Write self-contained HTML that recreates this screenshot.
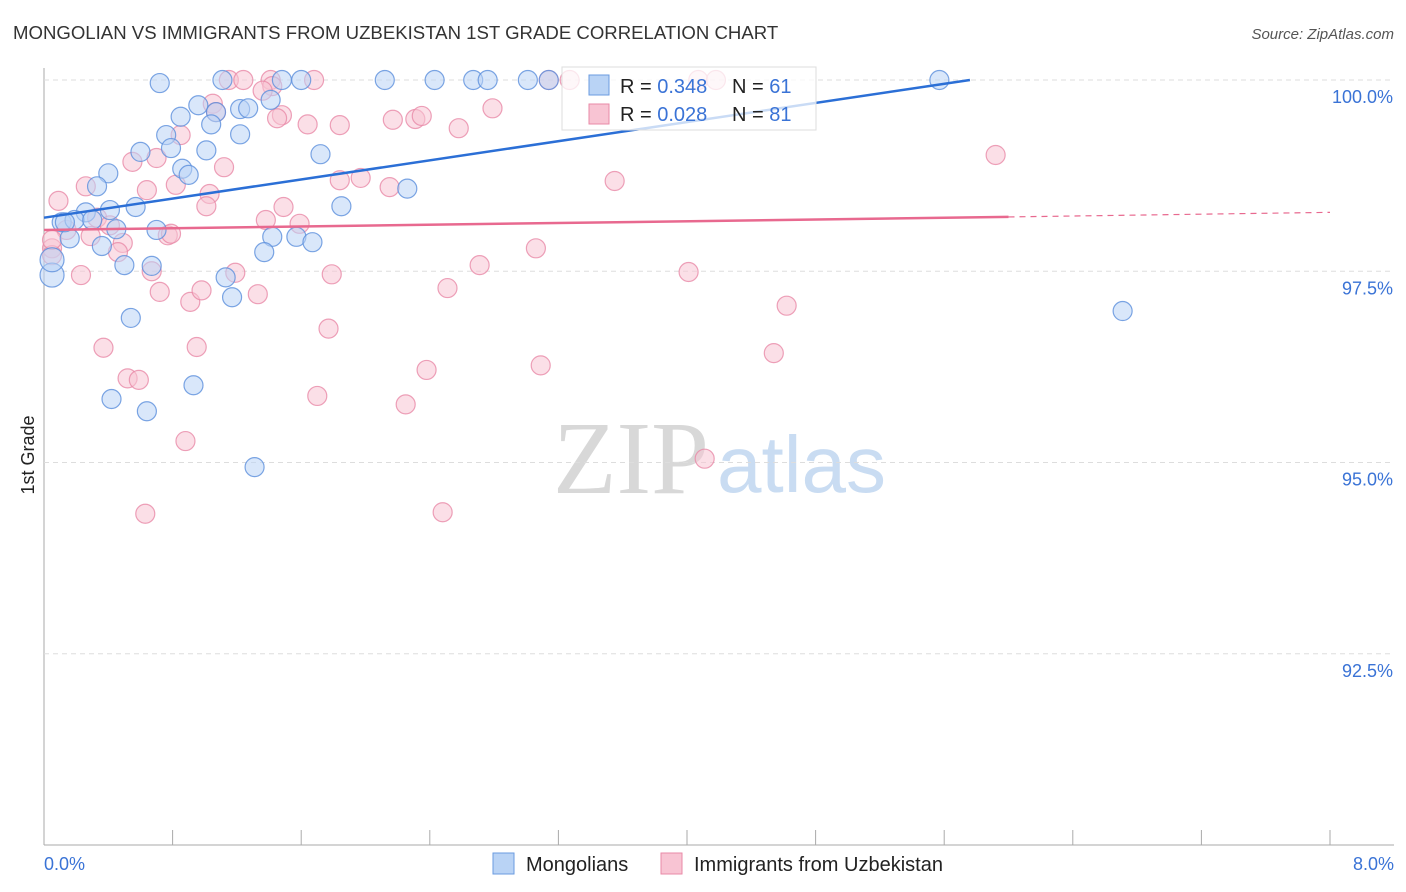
<!DOCTYPE html>
<html><head><meta charset="utf-8"><style>
body{margin:0;background:#fff;font-family:"Liberation Sans",sans-serif;}
#wrap{position:relative;width:1406px;height:892px;overflow:hidden;}
</style></head><body>
<div id="wrap">
<svg id="svg" width="1406" height="892" xmlns="http://www.w3.org/2000/svg">
<text x="13" y="39" font-size="18.6" fill="#333">MONGOLIAN VS IMMIGRANTS FROM UZBEKISTAN 1ST GRADE CORRELATION CHART</text>
<text x="1394" y="39" font-size="15" fill="#555" font-style="italic" text-anchor="end">Source: ZipAtlas.com</text>
<text x="553" y="493" font-size="104" fill="#d8d8d8" font-family="Liberation Serif,serif">ZIP</text>
<text x="717" y="492" font-size="80" fill="#c9dcf2">atlas</text>
<g id="grid"></g>
<g id="marks"></g>
<g id="trend"></g>
<text x="34" y="455" font-size="18" fill="#222" transform="rotate(-90 34 455)" text-anchor="middle">1st Grade</text>
<text x="44" y="870" font-size="18" fill="#3a73d6">0.0%</text>
<text x="1394" y="870" font-size="18" fill="#3a73d6" text-anchor="end">8.0%</text>
<g>
<rect x="562" y="67" width="254" height="63" fill="#fff" fill-opacity="0.75" stroke="#ddd"/>
<rect x="589" y="75" width="20" height="20" fill="#b9d3f5" stroke="#6a9be0"/>
<rect x="589" y="104" width="20" height="20" fill="#f8c4d3" stroke="#e98aa7"/>
<text x="620" y="93" font-size="20" fill="#222">R = <tspan fill="#3a73d6">0.348</tspan><tspan x="732">N = </tspan><tspan fill="#3a73d6">61</tspan></text>
<text x="620" y="121" font-size="20" fill="#222">R = <tspan fill="#3a73d6">0.028</tspan><tspan x="732">N = </tspan><tspan fill="#3a73d6">81</tspan></text>
</g>
<g>
<rect x="493" y="853" width="21" height="21" fill="#b9d3f5" stroke="#6a9be0"/>
<text x="526" y="871" font-size="20" fill="#222">Mongolians</text>
<rect x="661" y="853" width="21" height="21" fill="#f8c4d3" stroke="#e98aa7"/>
<text x="694" y="871" font-size="20" fill="#222">Immigrants from Uzbekistan</text>
</g>
</svg>
</div>
<script>
const blueX=[0.72,1.11,1.48,1.60,2.12,2.43,2.67,2.76,3.01,3.14,5.57,0.85,0.96,1.07,1.22,1.27,1.41,0.76,0.79,1.01,1.22,1.04,0.60,0.40,0.33,0.86,0.90,1.72,2.26,1.85,0.57,0.41,0.26,0.11,0.19,0.30,0.45,0.70,0.16,0.36,0.50,0.67,1.42,1.57,1.67,1.37,1.13,1.17,0.54,0.42,0.64,0.93,1.31,6.71,0.05,0.05,0.13];
const blueY=[99.96,100,100,100,100,100,100,100,100,100,100,99.52,99.67,99.58,99.62,99.63,99.74,99.28,99.11,99.08,99.29,99.42,99.06,98.78,98.61,98.84,98.76,99.03,98.58,98.35,98.34,98.30,98.27,98.14,98.17,98.17,98.05,98.04,97.93,97.83,97.58,97.57,97.95,97.95,97.88,97.75,97.42,97.16,96.89,95.83,95.67,96.01,94.94,96.98,97.45,97.65,98.14];
const pinkX=[0.09,0.26,0.33,0.41,0.14,0.29,0.49,0.46,0.05,0.05,0.23,0.55,0.70,0.64,0.82,0.85,1.03,1.01,1.12,1.05,1.07,1.15,1.24,1.41,1.42,1.68,1.36,1.48,1.45,1.64,1.84,2.17,2.31,2.35,2.58,2.79,3.14,3.27,4.07,4.18,1.84,1.97,2.15,1.38,1.49,1.59,0.77,0.79,1.19,0.67,0.72,0.91,0.98,1.33,1.79,0.37,0.52,0.59,0.95,0.88,0.63,1.77,1.70,2.38,2.25,2.51,2.48,2.71,3.06,3.09,3.55,4.01,4.11,4.62,4.54,5.92,0.05];
const pinkY=[98.42,98.61,98.20,98.10,98.04,97.96,97.87,97.75,97.80,97.71,97.45,98.93,98.98,98.56,98.63,99.28,98.51,98.35,98.86,99.69,99.58,100,100,100,99.92,100,99.86,99.54,99.50,99.42,99.41,99.48,99.49,99.53,99.37,99.63,100,100,100,100,98.69,98.72,98.60,98.17,98.34,98.12,97.97,97.99,97.48,97.50,97.23,97.10,97.25,97.20,97.46,96.50,96.10,96.08,96.51,95.28,94.33,96.75,95.87,96.21,95.76,97.28,94.35,97.58,97.80,96.27,98.68,97.49,95.05,97.05,96.43,99.02,97.91];
const yTicks=[100,97.5,95,92.5];
const yTickLabels=["100.0%","97.5%","95.0%","92.5%"];
const xTicks=[0,0.8,1.6,2.4,3.2,4.0,4.8,5.6,6.4,7.2,8.0];
const blueTrend=[[0,98.2],[5.76,100]];
const pinkTrend=[[0,98.04],[6.0,98.21],[8.0,98.27]];
const NS="http://www.w3.org/2000/svg";
const X=v=>44+v/8*1286;
const Y=v=>80+(100-v)*76.5;
function mk(t,a,p){const e=document.createElementNS(NS,t);for(const k in a)e.setAttribute(k,a[k]);p.appendChild(e);return e;}
const grid=document.getElementById('grid'),marks=document.getElementById('marks'),trend=document.getElementById('trend');
const ax=mk('line',{x1:44,y1:68,x2:44,y2:845,stroke:'#aaa'},grid);


const bx=mk('line',{x1:44,y1:845,x2:1394,y2:845,stroke:'#aaa'},grid);


yTicks.forEach((t,i)=>{
 const l=mk('line',{x1:44,y1:Y(t),x2:1394,y2:Y(t),stroke:'#ddd','stroke-dasharray':'5,4'},grid);
 
 
 const tx=mk('text',{x:1393,y:Y(t)+23,'font-size':18,fill:'#3a73d6','text-anchor':'end'},grid);
 tx.textContent=yTickLabels[i];
 
 
});
xTicks.forEach(t=>{
 const l=mk('line',{x1:X(t),y1:830,x2:X(t),y2:845,stroke:'#aaa'},grid);
 
 
});
function pts(xs,ys,fill,stroke,name){
 xs.forEach((x,i)=>{
  const big=(x<=0.06&&(ys[i]>97.4&&ys[i]<97.7));
  const c=mk('circle',{cx:X(x),cy:Y(ys[i]),r:big?12:9.5,fill:fill,'fill-opacity':0.55,stroke:stroke,'stroke-opacity':0.8,'stroke-width':1.2},marks);
  
  
 });
}
pts(pinkX,pinkY,'#f8c4d3','#e98aa7','point-uzbekistan');
pts(blueX,blueY,'#b9d3f5','#5b8fdc','point-mongolian');
const bl=mk('line',{x1:X(blueTrend[0][0]),y1:Y(blueTrend[0][1]),x2:X(blueTrend[1][0]),y2:Y(blueTrend[1][1]),stroke:'#2b6fd6','stroke-width':2.5},trend);


const pl=mk('line',{x1:X(pinkTrend[0][0]),y1:Y(pinkTrend[0][1]),x2:X(pinkTrend[1][0]),y2:Y(pinkTrend[1][1]),stroke:'#e8698f','stroke-width':2.5},trend);


const pd=mk('line',{x1:X(pinkTrend[1][0]),y1:Y(pinkTrend[1][1]),x2:X(pinkTrend[2][0]),y2:Y(pinkTrend[2][1]),stroke:'#e8698f','stroke-width':1.2,'stroke-dasharray':'6,5'},trend);


</script>
</body></html>
